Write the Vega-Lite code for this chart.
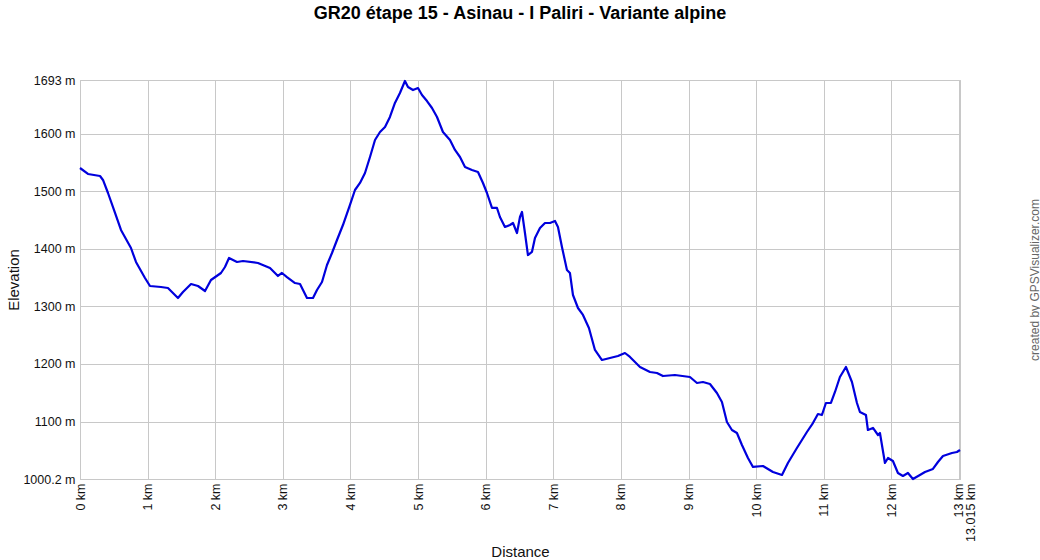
{
  "$schema": "https://vega.github.io/schema/vega-lite/v6.json",
  "width": 880,
  "height": 399,
  "autosize": "none",
  "padding": {"left": 80, "top": 80, "right": 80, "bottom": 81},
  "background": "white",
  "title": {"text": "GR20 étape 15 - Asinau - I Paliri - Variante alpine", "font": "Liberation Sans", "fontSize": 18, "fontWeight": "bold", "color": "#000000", "offset": 51, "anchor": "middle"},
  "config": {
    "view": {"stroke": "#c8c8c8", "strokeWidth": 1},
    "axis": {"labelFont": "Liberation Sans", "titleFont": "Liberation Sans", "labelColor": "#111111", "titleColor": "#111111", "labelFontSize": 12.5, "titleFontSize": 15, "titleFontWeight": "normal", "gridColor": "#c8c8c8", "gridOpacity": 1, "domainColor": "#c8c8c8", "ticks": false}
  },
  "data": {"values": [
    {"km": 0, "elev": 1540.2}, {"km": 0.118, "elev": 1529.8}, {"km": 0.296, "elev": 1526.3}, {"km": 0.34, "elev": 1519.4},
    {"km": 0.414, "elev": 1496.8}, {"km": 0.518, "elev": 1462.1}, {"km": 0.606, "elev": 1432.6}, {"km": 0.754, "elev": 1401.3},
    {"km": 0.828, "elev": 1377}, {"km": 0.961, "elev": 1349.2}, {"km": 1.035, "elev": 1335.3}, {"km": 1.198, "elev": 1333.6},
    {"km": 1.301, "elev": 1331.8}, {"km": 1.449, "elev": 1314.5}, {"km": 1.523, "elev": 1324.9}, {"km": 1.642, "elev": 1338.8},
    {"km": 1.745, "elev": 1335.3}, {"km": 1.849, "elev": 1326.6}, {"km": 1.937, "elev": 1345.7}, {"km": 2.085, "elev": 1357.9},
    {"km": 2.144, "elev": 1368.3}, {"km": 2.204, "elev": 1383.9}, {"km": 2.322, "elev": 1377}, {"km": 2.411, "elev": 1378.7},
    {"km": 2.632, "elev": 1375.3}, {"km": 2.81, "elev": 1366.6}, {"km": 2.928, "elev": 1352.7}, {"km": 2.987, "elev": 1357.9},
    {"km": 3.061, "elev": 1350.9}, {"km": 3.18, "elev": 1340.5}, {"km": 3.254, "elev": 1338.8}, {"km": 3.298, "elev": 1328.4},
    {"km": 3.357, "elev": 1314.5}, {"km": 3.446, "elev": 1314.5}, {"km": 3.505, "elev": 1328.4}, {"km": 3.579, "elev": 1342.3},
    {"km": 3.653, "elev": 1371.8}, {"km": 3.727, "elev": 1392.6}, {"km": 3.801, "elev": 1415.2}, {"km": 3.889, "elev": 1441.2},
    {"km": 3.993, "elev": 1476}, {"km": 4.067, "elev": 1502}, {"km": 4.141, "elev": 1514.2}, {"km": 4.215, "elev": 1531.5},
    {"km": 4.289, "elev": 1559.3}, {"km": 4.363, "elev": 1588.8}, {"km": 4.437, "elev": 1602.7}, {"km": 4.511, "elev": 1611.4},
    {"km": 4.584, "elev": 1628.8}, {"km": 4.658, "elev": 1653.1}, {"km": 4.732, "elev": 1670.4}, {"km": 4.806, "elev": 1691.3},
    {"km": 4.851, "elev": 1680.8}, {"km": 4.925, "elev": 1675.6}, {"km": 4.999, "elev": 1679.1}, {"km": 5.058, "elev": 1667},
    {"km": 5.132, "elev": 1656.5}, {"km": 5.206, "elev": 1644.4}, {"km": 5.28, "elev": 1628.8}, {"km": 5.368, "elev": 1602.7},
    {"km": 5.472, "elev": 1588.8}, {"km": 5.546, "elev": 1571.5}, {"km": 5.62, "elev": 1559.3}, {"km": 5.694, "elev": 1541.9},
    {"km": 5.797, "elev": 1536.7}, {"km": 5.886, "elev": 1533.3}, {"km": 5.96, "elev": 1514.2}, {"km": 6.019, "elev": 1496.8},
    {"km": 6.093, "elev": 1470.8}, {"km": 6.167, "elev": 1470.8}, {"km": 6.211, "elev": 1455.1}, {"km": 6.285, "elev": 1437.8},
    {"km": 6.359, "elev": 1441.2}, {"km": 6.404, "elev": 1444.7}, {"km": 6.463, "elev": 1427.3}, {"km": 6.507, "elev": 1455.1},
    {"km": 6.537, "elev": 1463.8}, {"km": 6.581, "elev": 1427.3}, {"km": 6.625, "elev": 1389.1}, {"km": 6.684, "elev": 1394.4},
    {"km": 6.729, "elev": 1418.7}, {"km": 6.803, "elev": 1436}, {"km": 6.877, "elev": 1444.7}, {"km": 6.951, "elev": 1444.7},
    {"km": 7.025, "elev": 1448.2}, {"km": 7.069, "elev": 1437.8}, {"km": 7.128, "elev": 1403}, {"km": 7.202, "elev": 1363.1},
    {"km": 7.246, "elev": 1357.9}, {"km": 7.291, "elev": 1319.7}, {"km": 7.365, "elev": 1297.1}, {"km": 7.439, "elev": 1285},
    {"km": 7.527, "elev": 1262.4}, {"km": 7.616, "elev": 1224.2}, {"km": 7.72, "elev": 1206.8}, {"km": 7.838, "elev": 1210.3},
    {"km": 7.956, "elev": 1213.8}, {"km": 8.06, "elev": 1219}, {"km": 8.134, "elev": 1212.1}, {"km": 8.282, "elev": 1194.7},
    {"km": 8.43, "elev": 1186}, {"km": 8.533, "elev": 1184.3}, {"km": 8.622, "elev": 1179}, {"km": 8.799, "elev": 1180.8},
    {"km": 9.021, "elev": 1177.3}, {"km": 9.125, "elev": 1166.9}, {"km": 9.213, "elev": 1168.6}, {"km": 9.317, "elev": 1165.2},
    {"km": 9.42, "elev": 1149.5}, {"km": 9.494, "elev": 1133.9}, {"km": 9.568, "elev": 1099.2}, {"km": 9.642, "elev": 1085.3},
    {"km": 9.716, "elev": 1080.1}, {"km": 9.79, "elev": 1059.3}, {"km": 9.879, "elev": 1036.7}, {"km": 9.953, "elev": 1021.1},
    {"km": 10.101, "elev": 1022.8}, {"km": 10.249, "elev": 1012.4}, {"km": 10.382, "elev": 1007.2}, {"km": 10.47, "elev": 1028},
    {"km": 10.603, "elev": 1054}, {"km": 10.751, "elev": 1081.8}, {"km": 10.84, "elev": 1097.4}, {"km": 10.914, "elev": 1113},
    {"km": 10.973, "elev": 1111.3}, {"km": 11.032, "elev": 1132.2}, {"km": 11.106, "elev": 1132.2}, {"km": 11.166, "elev": 1151.3},
    {"km": 11.239, "elev": 1177.3}, {"km": 11.328, "elev": 1194.7}, {"km": 11.417, "elev": 1168.6}, {"km": 11.491, "elev": 1132.2},
    {"km": 11.535, "elev": 1116.5}, {"km": 11.624, "elev": 1111.3}, {"km": 11.653, "elev": 1085.3}, {"km": 11.728, "elev": 1088.8},
    {"km": 11.802, "elev": 1076.6}, {"km": 11.831, "elev": 1080.1}, {"km": 11.905, "elev": 1028}, {"km": 11.95, "elev": 1036.7},
    {"km": 12.023, "elev": 1031.5}, {"km": 12.097, "elev": 1010.6}, {"km": 12.171, "elev": 1005.4}, {"km": 12.245, "elev": 1010.6},
    {"km": 12.319, "elev": 1000.2}, {"km": 12.422, "elev": 1007.2}, {"km": 12.497, "elev": 1012.4}, {"km": 12.615, "elev": 1017.6},
    {"km": 12.689, "elev": 1029.7}, {"km": 12.763, "elev": 1040.1}, {"km": 12.896, "elev": 1045.4}, {"km": 12.97, "elev": 1047.1},
    {"km": 13.015, "elev": 1050.6}
  ]},
  "layer": [
    {
      "mark": {"type": "line", "color": "#0000dd", "strokeWidth": 2.2, "strokeJoin": "round"},
      "encoding": {
        "x": {"field": "km", "type": "quantitative",
          "scale": {"domain": [0, 13.015], "nice": false, "zero": false},
          "axis": {"values": [0, 1, 2, 3, 4, 5, 6, 7, 8, 9, 10, 11, 12, 13, 13.015],
            "labelExpr": "datum.value + ' km'", "labelAngle": -90, "labelOverlap": false, "labelFlush": false,
            "labelPadding": 4, "labelOffset": {"condition": {"test": "datum.value > 13.005", "value": 10}, "value": 0},
            "title": "Distance", "titlePadding": 3}},
        "y": {"field": "elev", "type": "quantitative",
          "scale": {"domain": [1000.2, 1693], "nice": false, "zero": false},
          "axis": {"values": [1000.2, 1100, 1200, 1300, 1400, 1500, 1600, 1693],
            "labelExpr": "datum.value + ' m'", "labelPadding": 5, "labelOverlap": false, "labelFlush": false,
            "title": "Elevation", "titlePadding": 1}}
      }
    },
    {
      "mark": {"type": "line", "strokeOpacity": 0},
      "encoding": {
        "x": {"field": "km", "type": "quantitative"},
        "y": {"field": "elev", "type": "quantitative",
          "axis": {"orient": "right", "title": "created by GPSVisualizer.com", "labels": false, "ticks": false, "domain": false, "grid": false,
            "titleAngle": -90, "titleFontSize": 12, "titleColor": "#666666", "titlePadding": 81}}
      }
    }
  ],
  "resolve": {"axis": {"y": "independent"}}
}
